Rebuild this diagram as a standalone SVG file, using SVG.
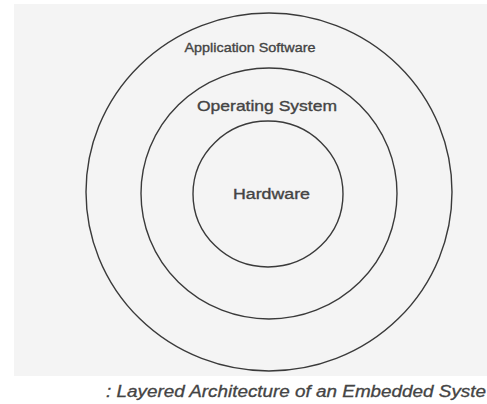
<svg xmlns="http://www.w3.org/2000/svg" width="487" height="404" viewBox="0 0 487 404">
<style>
.ring{fill:none;stroke:#3a3a3a;stroke-width:1.4}
.lbl{font-family:"Liberation Sans",Arial,sans-serif;fill:#444;text-anchor:middle;stroke:#444;stroke-width:0.35}
.cap{font-family:"Liberation Sans",Arial,sans-serif;fill:#444;font-style:italic;stroke:#444;stroke-width:0.3}
</style>
<rect x="0" y="0" width="487" height="404" fill="#ffffff"/>
<rect x="14" y="4" width="473" height="372" fill="#f4f4f4"/>
<g id="outer">
<ellipse class="ring" cx="269" cy="192" rx="183" ry="179"/>
<text class="lbl" x="250" y="52" font-size="13" textLength="131" lengthAdjust="spacingAndGlyphs">Application Software</text>
</g>
<g id="middle">
<ellipse class="ring" cx="269" cy="193.5" rx="128" ry="125.5"/>
<text class="lbl" x="267" y="111" font-size="15" textLength="140" lengthAdjust="spacingAndGlyphs">Operating System</text>
</g>
<g id="inner">
<ellipse class="ring" cx="268" cy="194" rx="75" ry="73"/>
<text class="lbl" x="271.5" y="199" font-size="14" textLength="77" lengthAdjust="spacingAndGlyphs">Hardware</text>
</g>
<g id="connectors"/>
<text class="cap" x="106" y="397" font-size="16" textLength="380" lengthAdjust="spacingAndGlyphs">: Layered Architecture of an Embedded Syste</text>
</svg>
